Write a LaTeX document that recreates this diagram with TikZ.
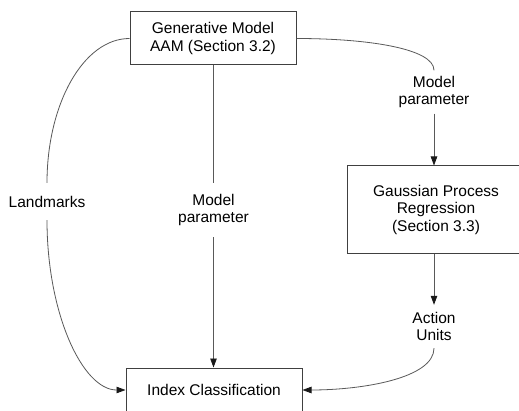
\documentclass[tikz,border=0pt]{standalone}
\usepackage{fontspec}
\setmainfont{Liberation Sans}
\usetikzlibrary{arrows.meta}
\begin{document}
\begin{tikzpicture}[x=1pt,y=1pt,
  every node/.style={font=\fontsize{15.5}{17.5}\selectfont, align=center, text=black},
  boxnode/.style={draw=black!75, line width=1pt, inner sep=0pt},
  lbl/.style={inner sep=0pt},
  conn/.style={draw=black!65, line width=0.8pt},
  arr/.style={conn, -{Triangle[length=9pt,width=6.5pt,color=black!90]}}
]
\clip (0,0) rectangle (519,410);
\fill[white] (0,0) rectangle (519,410);
% boxes
\node[boxnode, minimum width=166pt, minimum height=53pt] (top) at (213,371.5) {Generative Model\\AAM (Section 3.2)};
\node[boxnode, minimum width=178pt, minimum height=87pt] (gp) at (436,200.5) {Gaussian Process\\Regression\\(Section 3.3)};
\node[boxnode, minimum width=176pt, minimum height=44pt] (idx) at (214,20) {Index Classification};
% labels
\node[lbl, minimum height=37pt] (lm) at (47,208.5) {Landmarks};
\node[lbl, minimum height=54pt] (mid) at (213.5,200) {Model\\parameter};
\node[lbl, minimum height=43pt] (rp) at (434,318) {Model\\parameter};
\node[lbl, minimum height=43pt] (au) at (434,83.5) {Action\\Units};
% connectors
\draw[conn] (top.west) .. controls +(-46,0) and +(0,79) .. (lm.north);
\draw[arr] (lm.south) .. controls +(0,-93) and +(-43,0) .. (idx.west);
\draw[conn] (mid.north |- top.south) -- (mid.north);
\draw[arr] (mid.south) -- (mid.south |- idx.north);
\draw[conn] (top.east) .. controls +(70,0) and +(0,22) .. (rp.north);
\draw[arr] (rp.south) -- (rp.south |- gp.north);
\draw[arr] (au.north |- gp.south) -- (au.north);
\draw[arr] (au.south) .. controls +(0,-30) and +(60,0) .. (idx.east);
\end{tikzpicture}
\end{document}
